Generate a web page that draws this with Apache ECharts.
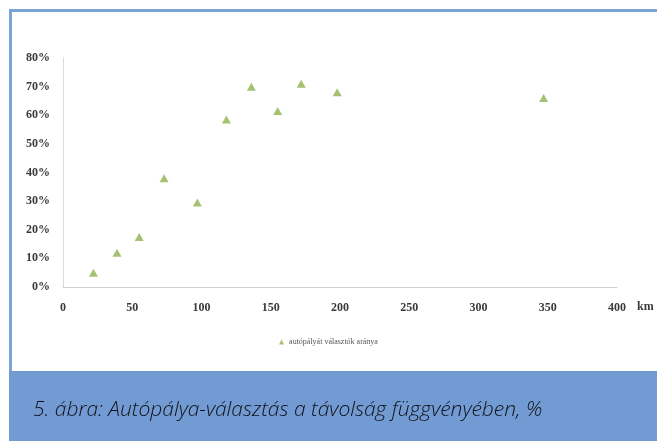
<!DOCTYPE html>
<html>
<head>
<meta charset="utf-8">
<script src="https://cdn.jsdelivr.net/npm/echarts@6/dist/echarts.min.js"></script>
<style>
  html, body { margin: 0; padding: 0; background: #fff; }
  #chart { width: 657px; height: 441px; }
</style>
</head>
<body>
<div id="chart"></div>
<script>
// Distance to destination (km) and share choosing the motorway
const distanceKm = [22, 39, 55, 73, 97, 118, 136, 155, 172, 198, 347];
const motorwayShare = [0.05, 0.12, 0.175, 0.38, 0.295, 0.585, 0.70, 0.615, 0.71, 0.68, 0.66];
const seriesName = 'autópályát választók aránya';
const captionText = '5. ábra: Autópálya-választás a távolság függvényében, %';

const points = distanceKm.map((d, i) => [d, motorwayShare[i]]);

const chart = echarts.init(document.getElementById('chart'));
const labelFont = { fontFamily: '"Liberation Serif", "DejaVu Serif", serif', fontWeight: 'bold', fontSize: 12, color: '#3a3a3a' };

chart.setOption({
  animation: false,
  backgroundColor: '#fff',
  grid: { left: 63, right: 40, top: 58, bottom: 154, containLabel: false },
  legend: {
    data: [seriesName],
    left: 'center',
    top: 333,
    itemWidth: 5,
    itemHeight: 5,
    itemGap: 2,
    textStyle: { fontFamily: '"Liberation Serif", serif', fontSize: 8, color: '#555' }
  },
  xAxis: {
    type: 'value',
    min: 0,
    max: 400,
    interval: 50,
    name: 'km',
    nameLocation: 'end',
    nameGap: 20,
    nameTextStyle: Object.assign({}, labelFont, { verticalAlign: 'top', padding: [14, 0, 0, 0] }),
    axisLine: { show: true, lineStyle: { color: '#cfcfcf', width: 1 } },
    axisTick: { show: false },
    splitLine: { show: false },
    axisLabel: Object.assign({}, labelFont, { margin: 15 })
  },
  yAxis: {
    type: 'value',
    min: 0,
    max: 0.8,
    interval: 0.1,
    axisLine: { show: true, lineStyle: { color: '#dcdcdc', width: 1 } },
    axisTick: { show: false },
    splitLine: { show: false },
    axisLabel: Object.assign({}, labelFont, {
      margin: 13,
      formatter: v => Math.round(v * 100) + '%'
    })
  },
  series: [{
    name: seriesName,
    type: 'scatter',
    symbol: 'triangle',
    symbolSize: [9, 8],
    itemStyle: { color: '#8db34f' },
    data: points
  }],
  graphic: [
    // frame lines (top and left)
    { type: 'rect', shape: { x: 9, y: 9, width: 648, height: 3 }, style: { fill: '#7ba2d9' } },
    { type: 'rect', shape: { x: 9, y: 9, width: 3, height: 362 }, style: { fill: '#7ba2d9' } },
    // caption band
    { type: 'rect', shape: { x: 9, y: 371, width: 648, height: 70 }, style: { fill: '#729bd3' } },
    {
      type: 'text',
      left: 33,
      top: 400,
      style: {
        text: captionText,
        fill: '#111118',
        font: 'italic 300 21px "Open Sans", "Noto Sans", sans-serif'
      }
    }
  ]
});
</script>
</body>
</html>
